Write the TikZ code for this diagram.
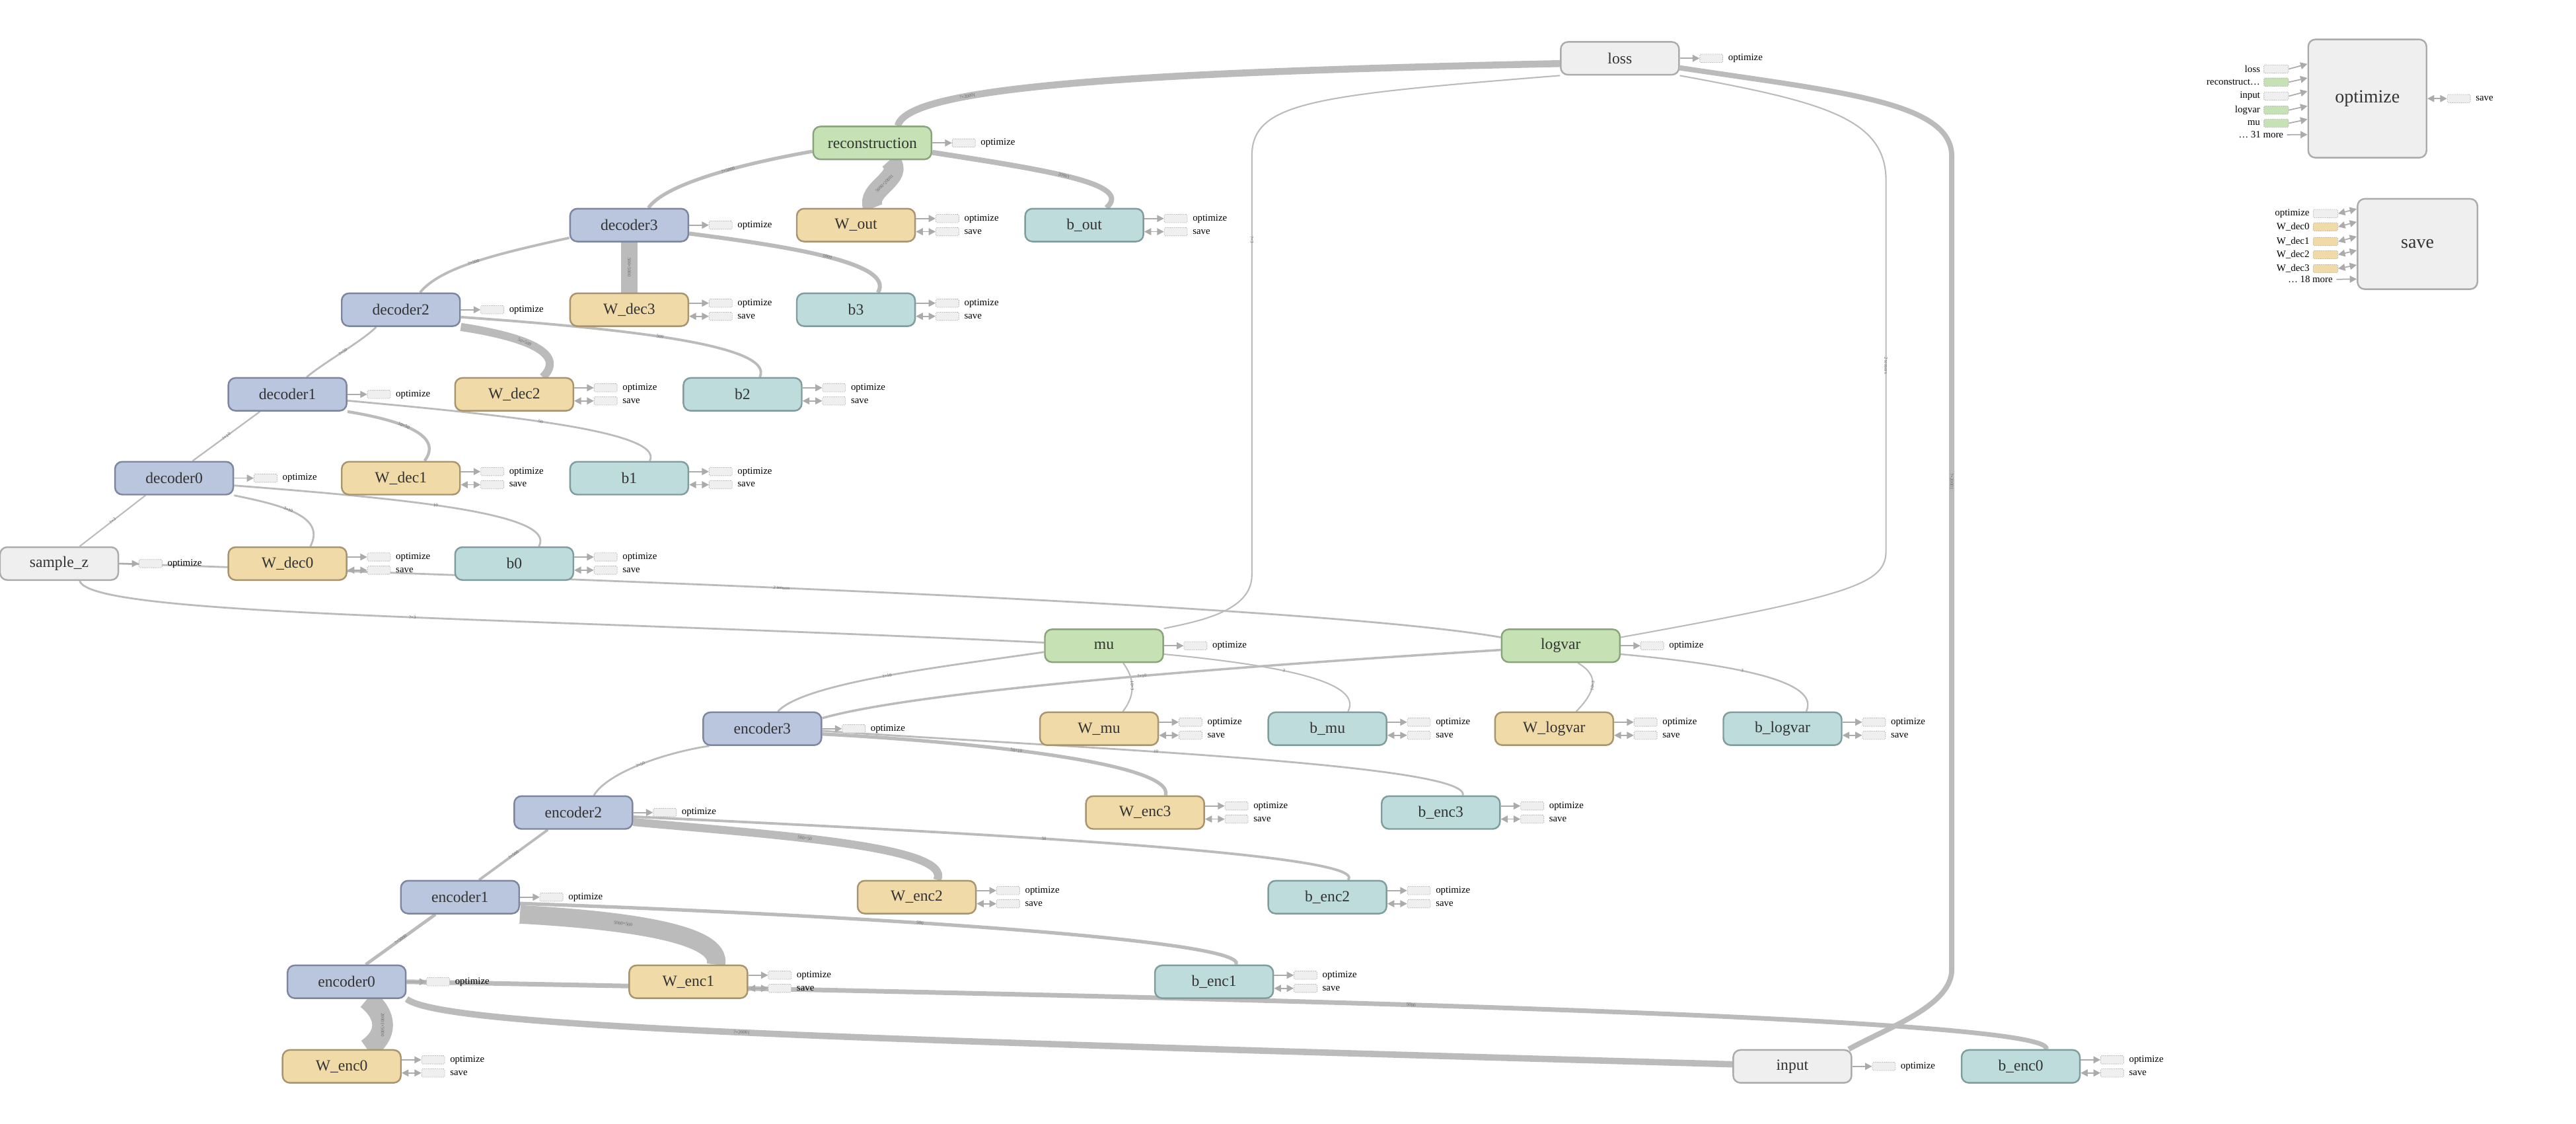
\documentclass[tikz,border=0pt]{standalone}
\usepackage{fontspec}
\setmainfont{Liberation Serif}
\usepackage{tikz}
\usetikzlibrary{arrows.meta, positioning}
\pgfdeclarelayer{bg}
\pgfsetlayers{bg,main}
\definecolor{opfill}{HTML}{EFEFEF}
\definecolor{opline}{HTML}{ABABAB}
\definecolor{gnfill}{HTML}{C6E2B5}
\definecolor{gnline}{HTML}{8BA37C}
\definecolor{blfill}{HTML}{BAC5DE}
\definecolor{blline}{HTML}{7C869E}
\definecolor{ylfill}{HTML}{F0DAA8}
\definecolor{ylline}{HTML}{A8946E}
\definecolor{tlfill}{HTML}{BEDCDC}
\definecolor{tlline}{HTML}{809C9C}
\definecolor{edgecol}{HTML}{BBBBBB}
\definecolor{txtcol}{HTML}{333333}

\begin{document}
\begin{tikzpicture}[x=0.05cm, y=-0.05cm,
    every node/.style={inner sep=0pt},
    box/.style={rounded corners=0.22cm, line width=1.4pt, minimum width=3.6cm, minimum height=1cm,
      text=txtcol, font=\fontsize{13.5}{15}\selectfont},
    op/.style={box, draw=opline, fill=opfill},
    grn/.style={box, draw=gnline, fill=gnfill},
    blu/.style={box, draw=blline, fill=blfill},
    wvar/.style={box, draw=ylline, fill=ylfill},
    bvar/.style={box, draw=tlline, fill=tlfill},
    edge/.style={draw=edgecol, line cap=butt},
    elabel/.style={font=\fontsize{4}{4}\selectfont, text=black!60, sloped},
    pbox/.style={draw=black!30, dash pattern=on 0.8pt off 0.8pt, fill=opfill, rounded corners=1pt,
      line width=0.5pt, minimum width=0.7cm, minimum height=0.25cm},
    plabel/.style={font=\fontsize{8.5}{9}\selectfont, anchor=west},
    parrow/.style={draw=black!33, line width=1pt, -{Triangle[length=6pt,width=6pt]}},
    pdouble/.style={draw=black!33, line width=1pt, {Triangle[length=6pt,width=6pt]}-{Triangle[length=6pt,width=6pt]}},
  ]
  \useasboundingbox (0,0) rectangle (1568,684);

  \foreach \nm/\px/\py/\txt in {loss/986/35.5/loss, samplez/36/343/sample\_z, input/1091/649/input}
    \node[op] (\nm) at (\px,\py) {\txt};
  \foreach \nm/\px/\py/\txt in {rec/531/87/reconstruction, mu/672/393/mu, logvar/950/393/logvar}
    \node[grn] (\nm) at (\px,\py) {\txt};
  \foreach \nm/\px/\py/\txt in {dec3/383/137/decoder3, dec2/244/188.5/decoder2, dec1/175/240/decoder1,
      dec0/106/291/decoder0, enc3/464/443.5/encoder3, enc2/349/494.5/encoder2,
      enc1/280/546/encoder1, enc0/211/597.5/encoder0}
    \node[blu] (\nm) at (\px,\py) {\txt};
  \foreach \nm/\px/\py/\txt in {Wout/521/137/W\_out, Wdec3/383/188.5/W\_dec3, Wdec2/313/240/W\_dec2,
      Wdec1/244/291/W\_dec1, Wdec0/175/343/W\_dec0, Wmu/669/443.5/W\_mu, Wlogvar/946/443.5/W\_logvar,
      Wenc3/697/494.5/W\_enc3, Wenc2/558/546/W\_enc2, Wenc1/419/597.5/W\_enc1, Wenc0/208/649/W\_enc0}
    \node[wvar] (\nm) at (\px,\py) {\txt};
  \foreach \nm/\px/\py/\txt in {bout/660/137/b\_out, b3/521/188.5/b3, b2/452/240/b2, b1/383/291/b1,
      b0/313/343/b0, bmu/808/443.5/b\_mu, blogvar/1085/443.5/b\_logvar, benc3/877/494.5/b\_enc3,
      benc2/808/546/b\_enc2, benc1/739/597.5/b\_enc1, benc0/1230/649/b\_enc0}
    \node[bvar] (\nm) at (\px,\py) {\txt};

  \foreach \nm in {loss, rec, dec3, dec2, dec1, dec0, samplez, mu, logvar, enc3, enc2, enc1, enc0, input}{
    \node[pbox, right=0.6cm of \nm.east] (\nm O) {};
    \node[plabel, right=0.15cm of \nm O.east] (\nm L) {optimize};
    \draw[parrow] (\nm.east) -- (\nm O.west);
  }
  \foreach \nm in {Wout, bout, Wdec3, b3, Wdec2, b2, Wdec1, b1, Wdec0, b0, Wmu, bmu, Wlogvar, blogvar,
      Wenc3, benc3, Wenc2, benc2, Wenc1, benc1, Wenc0, benc0}{
    \node[pbox, right=0.6cm of \nm.east, yshift=0.2cm] (\nm O) {};
    \node[pbox, right=0.6cm of \nm.east, yshift=-0.2cm] (\nm S) {};
    \node[plabel, right=0.15cm of \nm O.east] (\nm L) {optimize};
    \node[plabel, right=0.15cm of \nm S.east] (\nm T) {save};
    \draw[parrow] (\nm O.west -| \nm.east) -- (\nm O.west);
    \draw[pdouble] (\nm S.west -| \nm.east) -- (\nm S.west);
  }

  \node[op, minimum width=3.6cm, minimum height=3.6cm, font=\fontsize{16}{18}\selectfont] (optimize) at (1441,60) {optimize};
  \foreach \txt/\col/\py/\ang [count=\i] in {loss/opfill/42/150.5, reconstruct\ldots/gnfill/50/161,
      input/opfill/58.5/173.8, logvar/gnfill/67/187.3, mu/gnfill/75/199.3}{
    \node[pbox, fill=\col, minimum width=0.75cm] (oin\i) at (1385.5,\py) {};
    \node[plabel, left=0.1cm of oin\i.west] (oinl\i) {\txt};
    \draw[parrow] (oin\i.east) -- (optimize.\ang);
  }
  \node[plabel, anchor=east] (omore) at (1390,82) {\ldots{} 31 more};
  \draw[parrow] ([xshift=3pt]omore.east) -- (optimize.211.4);
  \node[pbox, right=0.6cm of optimize.east] (osave) {};
  \node[plabel, right=0.15cm of osave.east] (osavel) {save};
  \draw[pdouble] (optimize.east) -- (osave.west);

  \node[op, minimum width=3.65cm, minimum height=2.75cm, font=\fontsize{16}{18}\selectfont] (save) at (1471.5,148.5) {save};
  \foreach \txt/\col/\py/\ang [count=\i] in {optimize/opfill/130/150.2, W\_dec0/ylfill/138/160.5,
      W\_dec1/ylfill/147/173.9, W\_dec2/ylfill/155/186.4, W\_dec3/ylfill/163.5/199}{
    \node[pbox, fill=\col, minimum width=0.75cm] (sin\i) at (1415.5,\py) {};
    \node[plabel, left=0.1cm of sin\i.west] (sinl\i) {\txt};
    \draw[pdouble] (sin\i.east) -- (save.\ang);
  }
  \node[plabel, anchor=east] (smore) at (1420,170) {\ldots{} 18 more};
  \draw[parrow] ([xshift=3pt]smore.east) -- (save.210.5);

  \begin{pgfonlayer}{bg}
    \draw[edge, line width=6pt] (loss.185) .. controls (700,44) and (552,52) .. (rec.34) node[elabel, pos=.7] {?×20001};
    \draw[edge, line width=1.2pt] (loss.south west) .. controls (800,58) and (762,62) .. (762,95)
      -- (762,350) node[elabel, pos=.2] {?×3} .. controls (762,372) and (730,378) .. (mu.north east);
    \draw[edge, line width=1.2pt] (loss.south east) .. controls (1110,62) and (1148,72) .. (1148,110)
      -- (1148,335) node[elabel, pos=.5] {2 tensors} .. controls (1148,355) and (1130,362) .. (logvar.8);
    \draw[edge, line width=4.5pt] (loss.-9) .. controls (1120,56) and (1188,62) .. (1188,95)
      -- (1188,590) node[elabel, pos=.4] {?×20001} .. controls (1188,612) and (1150,625) .. (input.17);

    \draw[edge, line width=3pt] (rec.188) .. controls (450,100) and (405,112) .. (dec3.42) node[elabel, pos=.4] {?×5000};
    \draw[edge, line width=17pt] (rec.-45) .. controls (552,108) and (526,115) .. (Wout.45) node[elabel, pos=.5] {5000×20001};
    \draw[edge, line width=4.5pt] (rec.-9) .. controls (640,104) and (690,112) .. (bout.38) node[elabel, pos=.45] {20001};

    \draw[edge, line width=2.2pt] (dec3.192) .. controls (300,155) and (268,163) .. (dec2.42) node[elabel, pos=.5] {?×500};
    \draw[edge, line width=14pt] (dec3.south) -- (Wdec3.north) node[elabel, midway] {500×5000};
    \draw[edge, line width=3.5pt] (dec3.-8) .. controls (480,150) and (545,160) .. (b3.38) node[elabel, pos=.5] {5000};

    \draw[edge, line width=1.6pt] (dec2.215) .. controls (220,208) and (198,220) .. (dec1.42) node[elabel, pos=.5] {?×50};
    \draw[edge, line width=7pt] (dec2.south east) .. controls (320,205) and (345,215) .. (Wdec2.31) node[elabel, pos=.4] {50×500};
    \draw[edge, line width=2.2pt] (dec2.-7) .. controls (380,200) and (472,210) .. (b2.45) node[elabel, pos=.45] {500};

    \draw[edge, line width=1.3pt] (dec1.212) -- (dec0.43) node[elabel, midway] {?×10};
    \draw[edge, line width=2.5pt] (dec1.south east) .. controls (245,256) and (270,265) .. (Wdec1.36) node[elabel, pos=.4] {10×50};
    \draw[edge, line width=1.6pt] (dec1.-6) .. controls (300,252) and (405,262) .. (b1.40) node[elabel, pos=.45] {50};

    \draw[edge, line width=1.2pt] (dec0.211) -- (samplez.40) node[elabel, midway] {?×3};
    \draw[edge, line width=1.6pt] (dec0.south east) .. controls (175,308) and (198,315) .. (Wdec0.37) node[elabel, pos=.4] {3×10};
    \draw[edge, line width=1.6pt] (dec0.-7) .. controls (240,303) and (340,312) .. (b0.35) node[elabel, pos=.45] {10};

    \draw[edge, line width=1.6pt] (samplez.east) .. controls (350,352) and (800,368) .. (logvar.172) node[elabel, pos=.42] {2 tensors};
    \draw[edge, line width=1.6pt] (samplez.-40) .. controls (55,375) and (300,375) .. (mu.177) node[elabel, pos=.55] {?×3};

    \draw[edge, line width=1.6pt] (mu.186) .. controls (580,405) and (490,415) .. (enc3.48) node[elabel, pos=.5] {?×10};
    \draw[edge, line width=1.2pt] (mu.-42) .. controls (690,412) and (692,422) .. (Wmu.36) node[elabel, pos=.5] {10×3};
    \draw[edge, line width=1.2pt] (mu.-8) .. controls (780,405) and (830,415) .. (bmu.40) node[elabel, pos=.4] {3};

    \draw[edge, line width=2pt] (logvar.184) .. controls (760,405) and (560,420) .. (enc3.10) node[elabel, pos=.45] {?×10};
    \draw[edge, line width=1.2pt] (logvar.-45) .. controls (975,412) and (970,422) .. (Wlogvar.38) node[elabel, pos=.5] {10×3};
    \draw[edge, line width=1.4pt] (logvar.-8) .. controls (1060,405) and (1108,415) .. (blogvar.36) node[elabel, pos=.4] {3};

    \draw[edge, line width=1.6pt] (enc3.198) .. controls (405,458) and (370,470) .. (enc2.40) node[elabel, pos=.5] {?×50};
    \draw[edge, line width=3pt] (enc3.-5) .. controls (600,452) and (715,465) .. (Wenc3.40) node[elabel, pos=.4] {50×10};
    \draw[edge, line width=1.6pt] (enc3.-2) .. controls (650,455) and (895,465) .. (benc3.38) node[elabel, pos=.4] {10};

    \draw[edge, line width=2.2pt] (enc2.214) -- (enc1.42) node[elabel, midway] {?×500};
    \draw[edge, line width=7pt] (enc2.-9) .. controls (470,508) and (580,515) .. (Wenc2.40) node[elabel, pos=.4] {500×50};
    \draw[edge, line width=2.2pt] (enc2.-4) .. controls (600,507) and (835,520) .. (benc2.40) node[elabel, pos=.4] {50};

    \draw[edge, line width=2.8pt] (enc1.215) -- (enc0.42) node[elabel, midway] {?×5000};
    \draw[edge, line width=16pt] (enc1.south east) .. controls (380,560) and (440,568) .. (Wenc1.32) node[elabel, pos=.35] {5000×500};
    \draw[edge, line width=3pt] (enc1.-6) .. controls (520,557) and (760,572) .. (benc1.38) node[elabel, pos=.4] {500};

    \draw[edge, line width=18pt] (enc0.-40) .. controls (236,618) and (236,630) .. (Wenc0.34) node[elabel, pos=.5] {20001×5000};
    \draw[edge, line width=5.5pt] (enc0.south east) .. controls (270,625) and (500,632) .. (input.178) node[elabel, pos=.5] {?×20001};
    \draw[edge, line width=4pt] (enc0.east) .. controls (700,606) and (1252,618) .. (benc0.34) node[elabel, pos=.45] {5000};
  \end{pgfonlayer}
\end{tikzpicture}
\end{document}
